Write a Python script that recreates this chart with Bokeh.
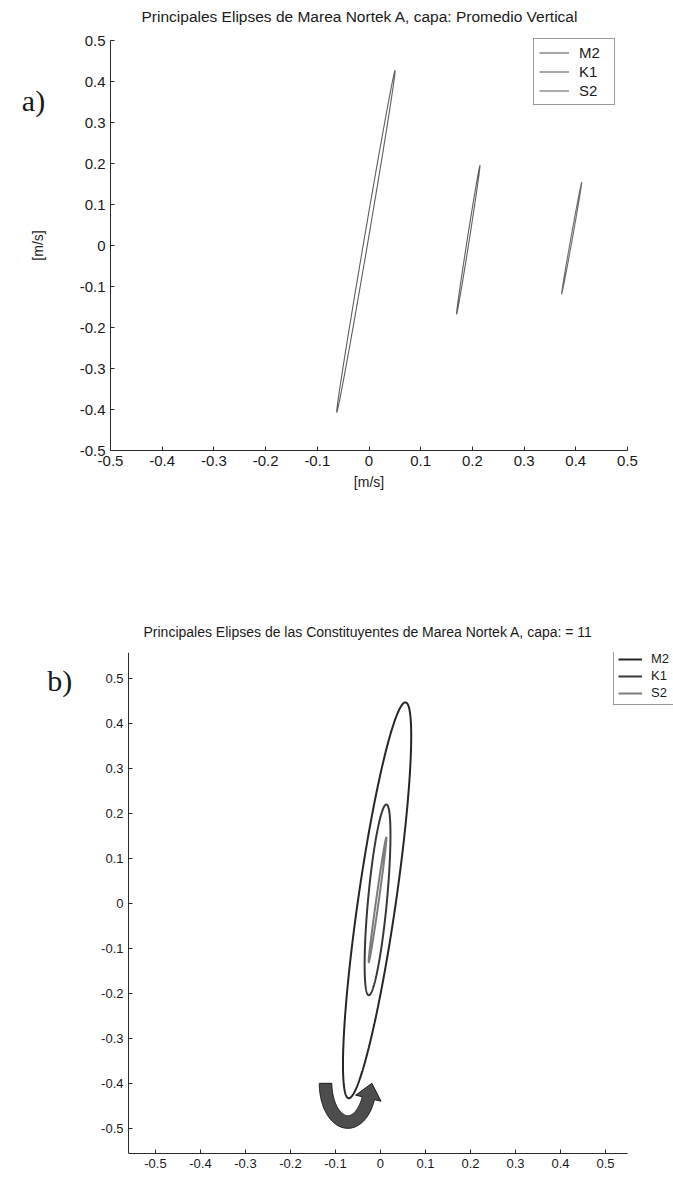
import numpy as np
from bokeh.plotting import figure
from bokeh.models import (Legend, LegendItem, FixedTicker, Range1d,
                          CustomJSTickFormatter)
from bokeh.layouts import column, row
from bokeh.embed import file_html
from bokeh.resources import INLINE
from bokeh.core.properties import value

# ---------------- data ----------------
constituents = ["M2", "K1", "S2"]

# panel a) vertical average: ellipse parameters
a_center_x = [-0.006, 0.192, 0.392]
a_center_y = [0.010, 0.014, 0.018]
a_semi_major = [0.4206, 0.1824, 0.1375]
a_semi_minor = [0.004, 0.002, 0.0015]
a_inclination = [82.3, 82.9, 81.9]  # degrees

# panel b) layer 11: ellipse parameters
b_center_x = [-0.0075, -0.0065, -0.0065]
b_center_y = [0.007, 0.008, 0.008]
b_semi_major = [0.4446, 0.213, 0.1404]
b_semi_minor = [0.042, 0.021, 0.003]
b_inclination = [81.8, 84.7, 82.0]

tick_values = [-0.5, -0.4, -0.3, -0.2, -0.1, 0, 0.1, 0.2, 0.3, 0.4, 0.5]
tick_labels = ["-0.5", "-0.4", "-0.3", "-0.2", "-0.1", "0", "0.1", "0.2", "0.3", "0.4", "0.5"]

# axes extents (data units)
a_axis_x = (-0.5, 0.5)
a_axis_y = (-0.5, 0.5)
b_axis_x = (-0.56, 0.549)
b_axis_y = (-0.556, 0.558)

# rotation arrow (panel b)
arrow_center_x = -0.0726
arrow_top_y = -0.40
arrow_rx = 0.0494
arrow_ry = 0.086
arrow_t_end = 2 * np.pi - 0.394
arrow_band = 0.028
arrow_head_half = 0.029
arrow_head_len = 0.034

title_a = "Principales Elipses de Marea Nortek A, capa: Promedio Vertical"
title_b = "Principales Elipses de las Constituyentes de Marea Nortek A, capa: = 11"
axis_unit = "[m/s]"
panel_tags = ["a)", "b)"]
tag_pos_a = (-0.649, 0.354)
tag_pos_b = (-0.713, 0.496)
xlabel_pos_a = (0.0, -0.578)
ylabel_pos_a = (-0.641, 0.0)

FONT = "Liberation Sans"
SERIF = "Liberation Serif"
AX = "#2a2a2a"
TXT = "#1a1a1a"

# pixel geometry
A_SCALE_X = 517.0   # px per data unit
A_SCALE_Y = 410.0
B_SCALE_X = 450.0
LEFT_PAD = 10       # frame starts here; y axis drawn at its fixed location
A_RIGHT_PAD = 10


def ellipse_xy(cx, cy, A, B, inc_deg, n=400):
    t = np.linspace(0, 2 * np.pi, n)
    th = np.deg2rad(inc_deg)
    x = cx + A * np.cos(t) * np.cos(th) - B * np.sin(t) * np.sin(th)
    y = cy + A * np.cos(t) * np.sin(th) + B * np.sin(t) * np.cos(th)
    return x, y


def style_axes(p, fs, xb, yb, fix_x=None):
    fmt = CustomJSTickFormatter(args=dict(tv=tick_values, tl=tick_labels), code="""
        for (let i = 0; i < tv.length; i++) { if (Math.abs(tv[i] - tick) < 1e-9) return tl[i]; }
        return '';
    """)
    for ax in (p.xaxis[0], p.yaxis[0]):
        ax.ticker = FixedTicker(ticks=tick_values)
        ax.formatter = fmt
        ax.major_tick_in = 4
        ax.major_tick_out = 0
        ax.minor_tick_line_color = None
        ax.axis_line_color = AX
        ax.major_tick_line_color = AX
        ax.major_label_text_font = FONT
        ax.major_label_text_font_size = fs
        ax.major_label_text_color = TXT
    p.xaxis[0].bounds = xb
    p.yaxis[0].bounds = yb
    p.yaxis[0].fixed_location = xb[0]
    if fix_x is not None:
        p.xaxis[0].fixed_location = fix_x
    p.xgrid.visible = False
    p.ygrid.visible = False
    p.outline_line_color = None
    p.title.text_font = FONT
    p.title.text_font_style = "normal"
    p.title.text_color = TXT
    p.title.align = "left"


# ---------------- panel a ----------------
A_FRAME_TOP, A_FRAME_BOTTOM, A_HEIGHT = 28, 505, 560
a_xmin = a_axis_x[0] - (110 - LEFT_PAD) / A_SCALE_X
a_xmax = a_axis_x[1] + (673 - A_RIGHT_PAD - 627) / A_SCALE_X
a_ymax = a_axis_y[1] + (40 - A_FRAME_TOP) / A_SCALE_Y
a_ymin = a_axis_y[0] - (A_FRAME_BOTTOM - 450) / A_SCALE_Y
pa = figure(width=673, height=A_HEIGHT, x_range=Range1d(a_xmin, a_xmax),
            y_range=Range1d(a_ymin, a_ymax),
            output_backend="svg", toolbar_location=None, title=title_a,
            min_border_left=LEFT_PAD, min_border_right=A_RIGHT_PAD, min_border_top=A_FRAME_TOP,
            min_border_bottom=A_HEIGHT - A_FRAME_BOTTOM)
style_axes(pa, "15px", a_axis_x, a_axis_y, fix_x=a_axis_y[0])
pa.title.text_font_size = "15.5px"
pa.title.offset = 131
pa.title.standoff = 7

a_colors = ["#5e5e5e", "#5e5e5e", "#6a6a6a"]
items_a = []
for i, name in enumerate(constituents):
    x, y = ellipse_xy(a_center_x[i], a_center_y[i], a_semi_major[i], a_semi_minor[i], a_inclination[i])
    r = pa.line(x, y, line_color=a_colors[i], line_width=1.1)
    items_a.append(LegendItem(label=name, renderers=[r]))

leg_a = Legend(items=items_a, location=(533 - LEFT_PAD, A_FRAME_BOTTOM - 105), padding=5, spacing=2,
               label_height=17, glyph_width=30, glyph_height=17, label_standoff=10, label_width=30,
               label_text_font=FONT, label_text_font_size="15px", label_text_color=TXT,
               border_line_color="#333333", border_line_width=1, margin=0)
pa.add_layout(leg_a, "center")
pa.text(x=[tag_pos_a[0]], y=[tag_pos_a[1]], text=[panel_tags[0]], text_font=value(SERIF),
        text_font_size="30px", text_align="center", text_baseline="middle", text_color=TXT)
# axis titles
pa.text(x=[xlabel_pos_a[0]], y=[xlabel_pos_a[1]], text=[axis_unit], text_font=value(FONT),
        text_font_size="14px", text_align="center", text_baseline="middle", text_color=TXT)
pa.text(x=[ylabel_pos_a[0]], y=[ylabel_pos_a[1]], text=[axis_unit], text_font=value(FONT),
        text_font_size="14px", text_align="center", text_baseline="middle", text_color=TXT,
        angle=np.pi / 2)

# ---------------- panel b ----------------
b_xmin = b_axis_x[0] - (128 - LEFT_PAD) / B_SCALE_X
b_xmax = b_axis_x[1] + 46 / B_SCALE_X
pb = figure(width=673, height=616, x_range=Range1d(b_xmin, b_xmax),
            y_range=Range1d(b_axis_y[0], b_axis_y[1]),
            output_backend="svg", toolbar_location=None, title=title_b,
            min_border_left=LEFT_PAD, min_border_right=0, min_border_top=92, min_border_bottom=23)
style_axes(pb, "13px", b_axis_x, b_axis_y)
pb.title.text_font_size = "14px"
pb.title.offset = 133
pb.title.standoff = 26

b_colors = ["#262626", "#383838", "#7c7c7c"]
b_widths = [2.0, 2.0, 2.0]
items_b = []
for i, name in enumerate(constituents):
    x, y = ellipse_xy(b_center_x[i], b_center_y[i], b_semi_major[i], b_semi_minor[i], b_inclination[i])
    r = pb.line(x, y, line_color=b_colors[i], line_width=b_widths[i])
    items_b.append(LegendItem(label=name, renderers=[r]))

# rotation arrow
t = np.linspace(np.pi, arrow_t_end, 90)
xc = arrow_center_x + arrow_rx * np.cos(t)
yc = arrow_top_y + arrow_ry * np.sin(t)
dx = -arrow_rx * np.sin(t)
dy = arrow_ry * np.cos(t)
L = np.hypot(dx, dy)
ux, uy = dx / L, dy / L
nx, ny = -uy, ux
hw = arrow_band / 2
s1x, s1y = xc + hw * nx, yc + hw * ny
s2x, s2y = xc - hw * nx, yc - hw * ny
ex, ey = xc[-1], yc[-1]
hx = [ex + arrow_head_half * nx[-1], ex + arrow_head_len * ux[-1], ex - arrow_head_half * nx[-1]]
hy = [ey + arrow_head_half * ny[-1], ey + arrow_head_len * uy[-1], ey - arrow_head_half * ny[-1]]
px = np.concatenate([s1x, hx, s2x[::-1]])
py = np.concatenate([s1y, hy, s2y[::-1]])
pb.patch(px, py, fill_color="#4d4d4d", line_color="#1e1e1e", line_width=1)

leg_b = Legend(items=items_b, location=(613 - LEFT_PAD, 448), padding=4, spacing=2, label_height=14,
               glyph_width=24, glyph_height=14, label_standoff=9, label_width=22,
               label_text_font=FONT, label_text_font_size="13px", label_text_color=TXT,
               border_line_color="#333333", border_line_width=1, margin=0)
pb.add_layout(leg_b, "center")
pb.text(x=[tag_pos_b[0]], y=[tag_pos_b[1]], text=[panel_tags[1]], text_font=value(SERIF),
        text_font_size="30px", text_align="center", text_baseline="middle", text_color=TXT)

layout = column(row(pa), row(pb), spacing=0)
open("out.html", "w").write(file_html(layout, INLINE))
